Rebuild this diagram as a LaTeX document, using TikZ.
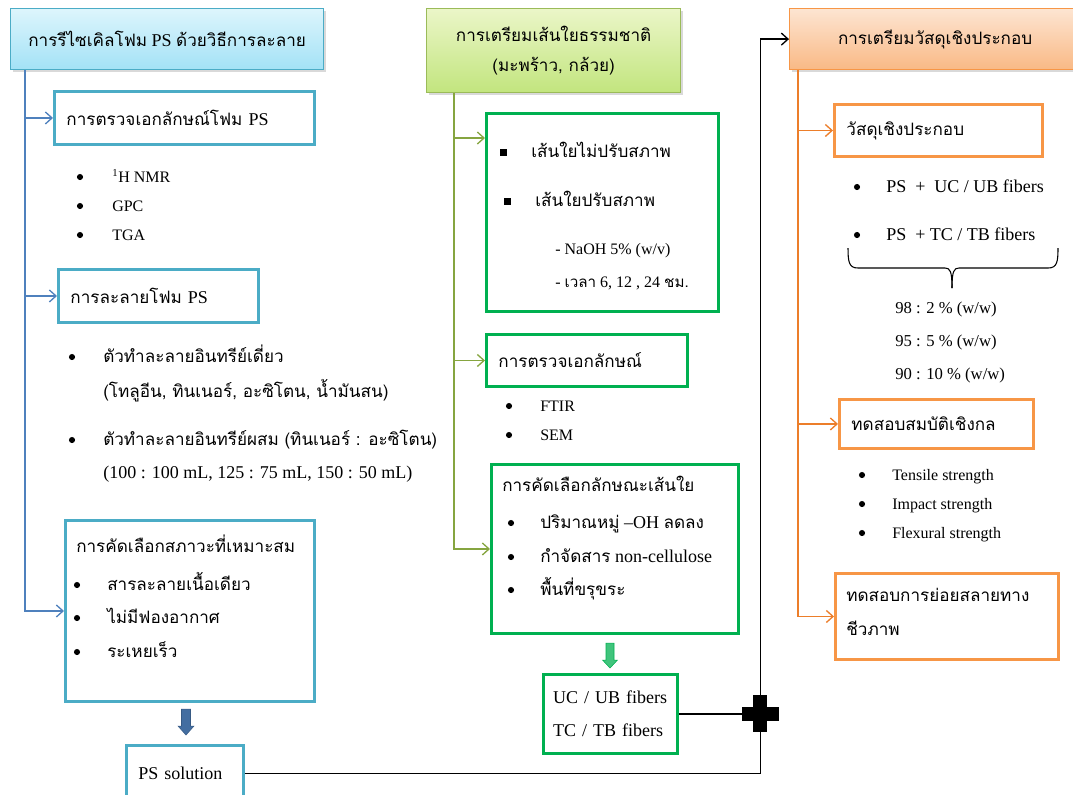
\documentclass[tikz,border=0pt]{standalone}
\usepackage{fontspec}
\setmainfont{Liberation Serif}
\newfontfamily\thaifont[Script=Thai,Scale=0.95]{Loma}
\newcommand{\tth}[1]{{\thaifont #1}}
\usepackage{tikz}
\usetikzlibrary{arrows.meta,shadows,positioning}

\definecolor{cyanb}{HTML}{4BACC6}
\definecolor{cyanT}{HTML}{DDF5FC}
\definecolor{cyanB}{HTML}{A3E2F6}
\definecolor{oliveb}{HTML}{9BBB59}
\definecolor{oliveT}{HTML}{EBF6C8}
\definecolor{oliveB}{HTML}{C2E57E}
\definecolor{orangeb}{HTML}{F79646}
\definecolor{orangeT}{HTML}{FDE5D2}
\definecolor{orangeB}{HTML}{F9B985}
\definecolor{greenb}{HTML}{00B050}
\definecolor{bluel}{HTML}{4F81BD}
\definecolor{olivel}{HTML}{86A540}
\definecolor{orangel}{HTML}{EC7E2A}

\begin{document}
\begin{tikzpicture}[x=0.75pt,y=-0.75pt,
    >={Straight Barb[length=5pt,width=9pt]},
    txt/.style={font=\fontsize{13.5}{16}\selectfont, inner sep=0pt, anchor=base west},
    sm/.style={txt, font=\fontsize{12}{14}\selectfont},
    ttl/.style={draw=#1, line width=0.9pt, anchor=north west, inner sep=0pt, align=center,
        drop shadow={shadow xshift=1.5pt, shadow yshift=-1.5pt, opacity=0.3},
        font=\fontsize{13.5}{16}\selectfont},
    box/.style={draw=#1, fill=white, line width=2.2pt, anchor=north west, inner xsep=9pt,
        inner ysep=0pt, align=left, font=\fontsize{13.5}{16}\selectfont},
    bline/.style={bluel, line width=1pt},
    gline/.style={olivel, line width=1pt},
    oline/.style={orangel, line width=1pt},
    kline/.style={black, line width=1pt}]
    \useasboundingbox (0,0) rectangle (1073,794);

    % PS foam recycling
    \node[ttl=cyanb, top color=cyanT, bottom color=cyanB, minimum width=234.75pt, minimum height=45.75pt]
        (recyc) at (10,8) {\tth{การรีไซเคิลโฟม} PS \tth{ด้วยวิธีการละลาย}};
    \coordinate (trunkA) at ([xshift=11.25pt]recyc.south west);

    \node[box=cyanb, minimum width=195pt, text width=177pt, minimum height=39.75pt]
        (chk) at (53,90) {\tth{การตรวจเอกลักษณ์โฟม} PS};
    \foreach \yy/\tx [count=\i] in {177/{\textsuperscript{1}H NMR}, 206/GPC, 235/TGA} {
        \fill (80,\yy) circle (2.3pt);
        \node[sm] (chk\i) at (112,\yy+5) {\tx};
    }

    \node[box=cyanb, minimum width=150pt, text width=132pt, minimum height=39.75pt]
        (dis) at (57,268) {\tth{การละลายโฟม} PS};
    \fill (72,357) circle (2.3pt);
    \node[txt] (single) at (103,362) {\tth{ตัวทำละลายอินทรีย์เดี่ยว}};
    \node[txt] (single2) at (103,397) {\tth{(โทลูอีน, ทินเนอร์, อะซิโตน, น้ำมันสน)}};
    \fill (72,440) circle (2.3pt);
    \node[txt] (mixed) at (103,445) {\tth{ตัวทำละลายอินทรีย์ผสม (ทินเนอร์ : อะซิโตน)}};
    \node[txt] (mixed2) at (103,478) {(100 : 100 mL, 125 : 75 mL, 150 : 50 mL)};

    \node[box=cyanb, minimum width=186.75pt, minimum height=135.75pt] (sel) at (64,519) {};
    \node[txt] (selt) at (76,552) {\tth{การคัดเลือกสภาวะที่เหมาะสม}};
    \foreach \yy/\tx [count=\i] in {585/สารละลายเนื้อเดียว, 618/ไม่มีฟองอากาศ, 652/ระเหยเร็ว} {
        \fill (77,\yy) circle (2.3pt);
        \node[txt] (sel\i) at (107,\yy+5) {\tth{\tx}};
    }

    % down arrow to PS solution
    \fill[fill=bluel!85!black, draw=bluel!70!black] (181.5,709) -- (190.5,709) -- (190.5,726) -- (194,726)
        -- (186,735) -- (178,726) -- (181.5,726) -- cycle;
    \node[box=cyanb, minimum width=87.75pt, text width=69.75pt, minimum height=42pt]
        (pss) at (125,744) {PS solution};

    \draw[bline,->] (trunkA) |- (sel.west);
    \foreach \n in {chk,dis}
        \draw[bline,->] (trunkA |- \n.west) -- (\n.west);

    % natural fibre preparation
    \node[ttl=oliveb, top color=oliveT, bottom color=oliveB, minimum width=190.5pt, minimum height=63pt,
        font=\fontsize{13.5}{23}\selectfont]
        (fibprep) at (426,8) {\tth{การเตรียมเส้นใยธรรมชาติ}\\\tth{(มะพร้าว, กล้วย)}};
    \coordinate (trunkB) at ([xshift=21pt]fibprep.south west);

    \node[box=greenb, minimum width=174pt, minimum height=148.5pt] (raw) at (485,112) {};
    \coordinate (rawin) at ([yshift=-19.5pt]raw.north west);
    \fill (499.5,148.5) rectangle ++(7,7);
    \node[txt] (raw1) at (531,157) {\tth{เส้นใยไม่ปรับสภาพ}};
    \fill (503.5,197.5) rectangle ++(7,7);
    \node[txt] (raw2) at (535,206) {\tth{เส้นใยปรับสภาพ}};
    \node[sm] (naoh) at (555,254) {- NaOH 5\% (w/v)};
    \node[sm] (time) at (555,287) {- \tth{เวลา} 6, 12 , 24 \tth{ชม.}};

    \node[box=greenb, minimum width=150.75pt, text width=132.75pt, minimum height=39pt]
        (chr) at (485,333) {\tth{การตรวจเอกลักษณ์}};
    \foreach \yy/\tx [count=\i] in {406/FTIR, 435/SEM} {
        \fill (509,\yy) circle (2.3pt);
        \node[sm] (chr\i) at (540,\yy+5) {\tx};
    }

    \node[box=greenb, minimum width=185.25pt, minimum height=126.75pt] (fsel) at (490,463) {};
    \node[txt] (fselt) at (502,491) {\tth{การคัดเลือกลักษณะเส้นใย}};
    \fill (511,523) circle (2.3pt);
    \node[txt] (fsel1) at (540,528) {\tth{ปริมาณหมู่} –OH \tth{ลดลง}};
    \fill (511,557) circle (2.3pt);
    \node[txt] (fsel2) at (540,562) {\tth{กำจัดสาร} non-cellulose};
    \fill (511,590) circle (2.3pt);
    \node[txt] (fsel3) at (540,595) {\tth{พื้นที่ขรุขระ}};

    % down arrow to fibres
    \fill[fill=greenb!75!white, draw=greenb] (606,643) -- (614,643) -- (614,660) -- (617.5,660)
        -- (610,668) -- (602.5,660) -- (606,660) -- cycle;
    \node[box=greenb, minimum width=100.5pt, text width=86pt, inner xsep=7.25pt, minimum height=59.25pt,
        font=\fontsize{13.5}{24.75}\selectfont] (fib) at (542,673) {UC / UB fibers\\TC / TB fibers};

    \draw[gline,->] (trunkB) |- (fsel.west);
    \draw[gline,->] (trunkB |- rawin) -- (rawin);
    \draw[gline,->] (trunkB |- chr.west) -- (chr.west);

    % composite preparation
    \node[ttl=orangeb, top color=orangeT, bottom color=orangeB, minimum width=218.25pt, minimum height=45.75pt]
        (mix) at (789,8) {\tth{การเตรียมวัสดุเชิงประกอบ}};
    \coordinate (trunkC) at ([xshift=6.75pt]mix.south west);

    \node[box=orangeb, minimum width=156pt, text width=138pt, minimum height=39pt]
        (comp) at (833,103) {\tth{วัสดุเชิงประกอบ}};
    \fill (857,187) circle (2.3pt);
    \node[txt] (comp1) at (886,192) {PS\ \ +\ \ UC / UB fibers};
    \fill (857,235) circle (2.3pt);
    \node[txt] (comp2) at (886,240) {PS\ \ + TC / TB fibers};
    \draw[line width=0.8pt] (848,248) .. controls (848,262) and (849,268) .. (858,268) -- (945,268)
        .. controls (950,268) and (952,271) .. (952,288);
    \draw[line width=0.8pt] (1058,248) .. controls (1058,262) and (1057,268) .. (1048,268) -- (959,268)
        .. controls (954,268) and (952,271) .. (952,288);
    \foreach \yy/\tx [count=\i] in {308/{98 : 2 \% (w/w)}, 341/{95 : 5 \% (w/w)}, 374/{90 : 10 \% (w/w)}}
        \node[sm, font=\fontsize{12.5}{15}\selectfont] (ratio\i) at (895,\yy+5) {\tx};

    \node[box=orangeb, minimum width=145.5pt, text width=127.5pt, minimum height=36.75pt]
        (mech) at (838,398) {\tth{ทดสอบสมบัติเชิงกล}};
    \foreach \yy/\tx [count=\i] in {475/Tensile strength, 504/Impact strength, 533/Flexural strength} {
        \fill (862,\yy) circle (2.3pt);
        \node[sm] (mech\i) at (892,\yy+5) {\tx};
    }

    \node[box=orangeb, minimum width=167.25pt, minimum height=64.5pt] (bio) at (834,572) {};
    \node[txt] (bio1) at (846,601) {\tth{ทดสอบการย่อยสลายทาง}};
    \node[txt] (bio2) at (846,635) {\tth{ชีวภาพ}};

    \draw[oline,->] (trunkC) |- (bio.west);
    \foreach \n in {comp,mech}
        \draw[oline,->] (trunkC |- \n.west) -- (\n.west);

    % joining the two streams
    \coordinate (plus) at ([xshift=61pt]fib.east);
    \draw[kline] (fib.east) -- (plus);
    \draw[kline,->] (pss.east) -| (plus) |- (mix.west);
    \fill (plus) ++(-7,-18.5) rectangle ++(14,37);
    \fill (plus) ++(-18.5,-7) rectangle ++(37,14);

\end{tikzpicture}
\end{document}
